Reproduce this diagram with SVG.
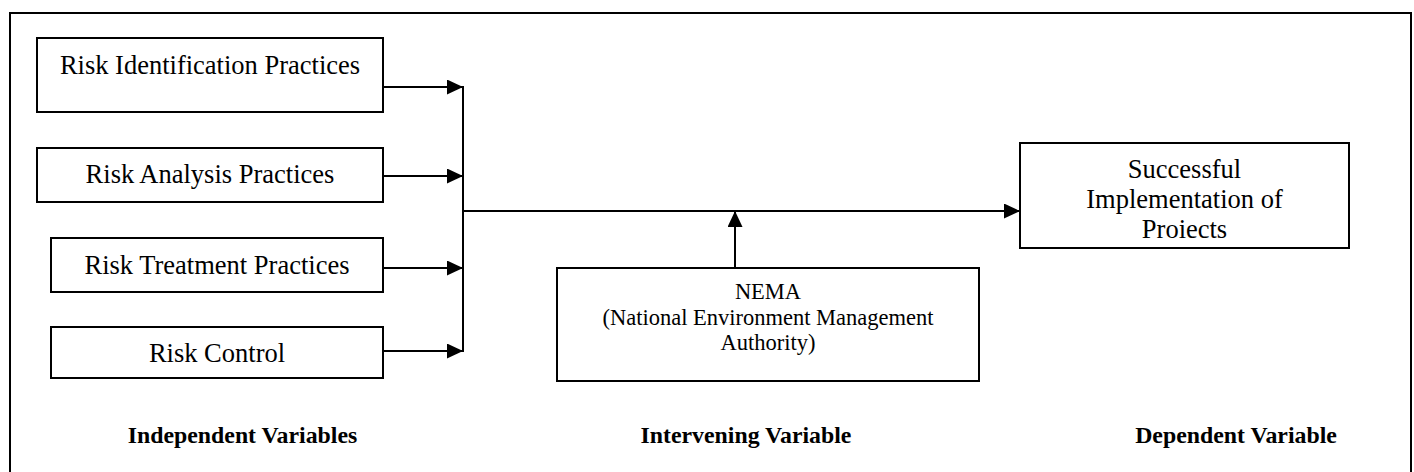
<svg xmlns="http://www.w3.org/2000/svg" width="1414" height="472" viewBox="0 0 1414 472">
<style>
.box{fill:#fff;stroke:#000;stroke-width:2}
.t{font-family:"Liberation Serif","Times New Roman",serif;font-size:26.5px;fill:#000;text-anchor:middle}
.n{font-family:"Liberation Serif","Times New Roman",serif;font-size:22.5px;fill:#000;text-anchor:middle}
.b{font-family:"Liberation Serif","Times New Roman",serif;font-size:23.8px;font-weight:bold;fill:#000;text-anchor:middle}
.c{fill:none;stroke:#000;stroke-width:2}
</style>
<defs>
<marker id="ah" markerUnits="userSpaceOnUse" markerWidth="16" markerHeight="15" refX="16" refY="7.5" orient="auto">
<path d="M0,0 L16,7.5 L0,15 z" fill="#000"/>
</marker>
</defs>
<rect x="10" y="13" width="1401" height="480" fill="none" stroke="#000" stroke-width="2"/>
<g id="n1"><rect class="box" x="37" y="38" width="346" height="74"/><text class="t" x="210" y="74">Risk Identification Practices</text></g>
<g id="n2"><rect class="box" x="37" y="148" width="346" height="54"/><text class="t" x="210" y="183">Risk Analysis Practices</text></g>
<g id="n3"><rect class="box" x="51" y="238" width="332" height="54"/><text class="t" x="217" y="274">Risk Treatment Practices</text></g>
<g id="n4"><rect class="box" x="51" y="327" width="332" height="51"/><text class="t" x="217" y="362">Risk Control</text></g>
<g id="n5"><rect class="box" x="1020" y="143" width="329" height="105"/><text class="t" x="1184.5" y="178">Successful</text><text class="t" x="1184.5" y="208">Implementation of</text><text class="t" x="1184.5" y="238">Proiects</text></g>
<g id="n6"><rect class="box" x="557" y="268" width="422" height="113"/><text class="n" x="768" y="299">NEMA</text><text class="n" x="768" y="325">(National Environment Management</text><text class="n" x="768" y="350">Authority)</text></g>
<g id="labels"><text class="b" x="242.5" y="443">Independent Variables</text><text class="b" x="746" y="443">Intervening Variable</text><text class="b" x="1236" y="443">Dependent Variable</text></g>
<g id="connectors">
<line class="c" x1="383" y1="87" x2="463" y2="87" marker-end="url(#ah)"/>
<line class="c" x1="383" y1="176" x2="463" y2="176" marker-end="url(#ah)"/>
<line class="c" x1="383" y1="268" x2="463" y2="268" marker-end="url(#ah)"/>
<line class="c" x1="383" y1="351" x2="463" y2="351" marker-end="url(#ah)"/>
<line class="c" x1="463" y1="86" x2="463" y2="352"/>
<line class="c" x1="463" y1="211" x2="1020" y2="211" marker-end="url(#ah)"/>
<line class="c" x1="735" y1="268" x2="735" y2="211" marker-end="url(#ah)"/>
</g>
</svg>
